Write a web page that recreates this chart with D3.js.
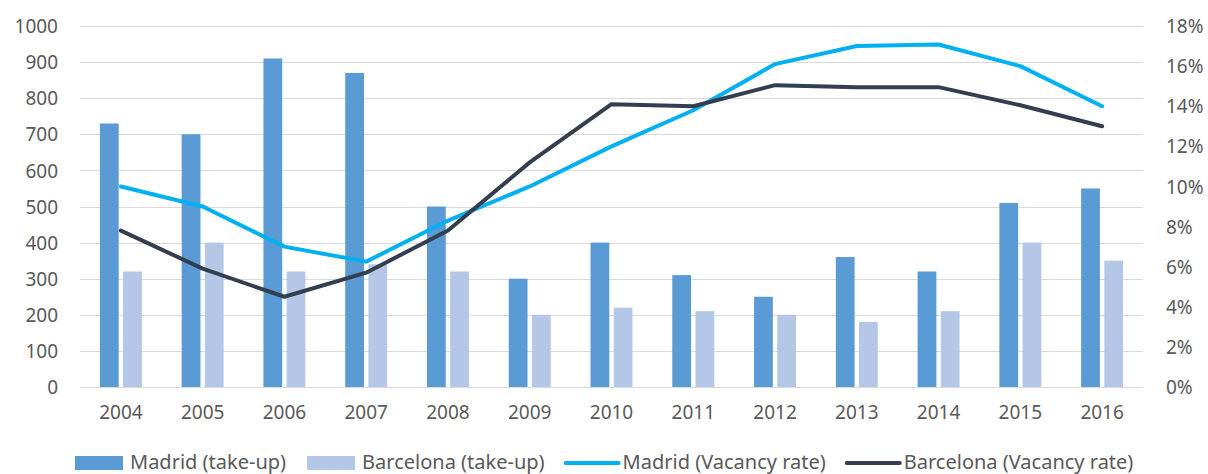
<!DOCTYPE html>
<html>
<head>
<meta charset="utf-8">
<script src="https://cdn.jsdelivr.net/npm/d3@7"></script>
<style>
  body { margin: 0; background: #fff; }
  text { font-family: "Noto Sans", "Open Sans", sans-serif; fill: #595959; }
</style>
</head>
<body>
<div id="chart"></div>
<script>
// Data
const years = ["2004", "2005", "2006", "2007", "2008", "2009", "2010", "2011", "2012", "2013", "2014", "2015", "2016"];
const madridTakeUp = [730, 700, 910, 870, 500, 300, 400, 310, 250, 360, 320, 510, 550];
const barcelonaTakeUp = [320, 400, 320, 340, 320, 200, 220, 210, 200, 180, 210, 400, 350];
const madridVacancy = [0.100, 0.090, 0.070, 0.0625, 0.083, 0.100, 0.120, 0.138, 0.161, 0.170, 0.1708, 0.160, 0.140];
const barcelonaVacancy = [0.078, 0.059, 0.045, 0.057, 0.078, 0.112, 0.141, 0.140, 0.1505, 0.1495, 0.1495, 0.1405, 0.130];
const leftTicks = [0, 100, 200, 300, 400, 500, 600, 700, 800, 900, 1000];
const rightTicks = [0, 0.02, 0.04, 0.06, 0.08, 0.10, 0.12, 0.14, 0.16, 0.18];

const width = 1208, height = 474;
const margin = { top: 26, left: 80, right: 65, bottom: 87 };

const svg = d3.select("#chart")
              .append("svg")
              .attr("width", width)
              .attr("height", height);

// Scales
const x0 = d3.scaleBand()
             .domain(years)
             .range([margin.left, width - margin.right])
             .paddingInner(0.487)
             .paddingOuter(0.2435);

const x1 = d3.scaleBand()
             .domain([0, 1])
             .range([0, x0.bandwidth()])
             .paddingInner(0.19);

const yLeft = d3.scaleLinear()
                .domain([0, 1000])
                .range([height - margin.bottom, margin.top]);

const yRight = d3.scaleLinear()
                 .domain([0, 0.18])
                 .range([height - margin.bottom, margin.top]);

// Gridlines
svg.append("g")
   .selectAll("line")
   .data(leftTicks)
   .enter()
   .append("line")
   .attr("x1", margin.left)
   .attr("x2", width - margin.right)
   .attr("y1", d => Math.round(yLeft(d)) + 0.5)
   .attr("y2", d => Math.round(yLeft(d)) + 0.5)
   .attr("stroke", "#d9d9d9")
   .attr("stroke-width", 1.2);

// Left axis
const leftAxis = svg.append("g")
   .attr("transform", `translate(${margin.left - 22},0)`)
   .call(d3.axisLeft(yLeft).tickValues(leftTicks).tickSize(0).tickPadding(0).tickFormat(d3.format("d")));
leftAxis.select(".domain").remove();
leftAxis.selectAll("text").style("font-size", "19px").attr("dy", "0.35em");

// Right axis
const rightAxis = svg.append("g")
   .attr("transform", `translate(${width - margin.right + 23},0)`)
   .call(d3.axisRight(yRight).tickValues(rightTicks).tickSize(0).tickPadding(0).tickFormat(d3.format(".0%")));
rightAxis.select(".domain").remove();
rightAxis.selectAll("text").style("font-size", "19px").attr("dy", "0.35em");

// Bottom axis
const bottomAxis = svg.append("g")
   .attr("transform", `translate(0,${height - margin.bottom + 18})`)
   .call(d3.axisBottom(x0).tickSize(0).tickPadding(0));
bottomAxis.select(".domain").remove();
bottomAxis.selectAll("text").style("font-size", "19px").attr("dy", "0.75em");

// Bars
const barSeries = [
  { name: "Madrid (take-up)", values: madridTakeUp, color: "#5b9bd5" },
  { name: "Barcelona (take-up)", values: barcelonaTakeUp, color: "#b4c7e7" },
];

barSeries.forEach((s, si) => {
  svg.append("g")
     .selectAll("rect")
     .data(s.values)
     .enter()
     .append("rect")
     .attr("x", (d, i) => x0(years[i]) + x1(si))
     .attr("y", d => yLeft(d))
     .attr("width", x1.bandwidth())
     .attr("height", d => yLeft(0) - yLeft(d))
     .attr("fill", s.color);
});

// Lines
const lineSeries = [
  { name: "Madrid (Vacancy rate)", values: madridVacancy, color: "#00b0f0" },
  { name: "Barcelona (Vacancy rate)", values: barcelonaVacancy, color: "#333f50" },
];

const line = d3.line()
               .x((d, i) => x0(years[i]) + x0.bandwidth() / 2)
               .y(d => yRight(d));

lineSeries.forEach((s) => {
  svg.append("path")
     .attr("fill", "none")
     .attr("stroke", s.color)
     .attr("stroke-width", 4)
     .attr("stroke-linejoin", "round")
     .attr("stroke-linecap", "round")
     .attr("d", line(s.values));
});

// Legend
const legend = svg.append("g").attr("transform", "translate(0,462)");
let lx = 75;
const items = barSeries.map(s => ({ ...s, type: "bar" }))
                       .concat(lineSeries.map(s => ({ ...s, type: "line" })));
items.forEach((item) => {
  if (item.type === "bar") {
    legend.append("rect")
          .attr("x", lx).attr("y", -6)
          .attr("width", 48).attr("height", 14)
          .attr("fill", item.color);
    lx += 55;
  } else {
    legend.append("line")
          .attr("x1", lx).attr("x2", lx + 53)
          .attr("y1", 1).attr("y2", 1)
          .attr("stroke", item.color)
          .attr("stroke-width", 4)
          .attr("stroke-linecap", "round");
    lx += 57;
  }
  const t = legend.append("text")
                  .attr("x", lx)
                  .attr("y", 0)
                  .attr("dy", "0.35em")
                  .style("font-size", "20px")
                  .text(item.name);
  lx += t.node().getComputedTextLength() + 21;
});
</script>
</body>
</html>
